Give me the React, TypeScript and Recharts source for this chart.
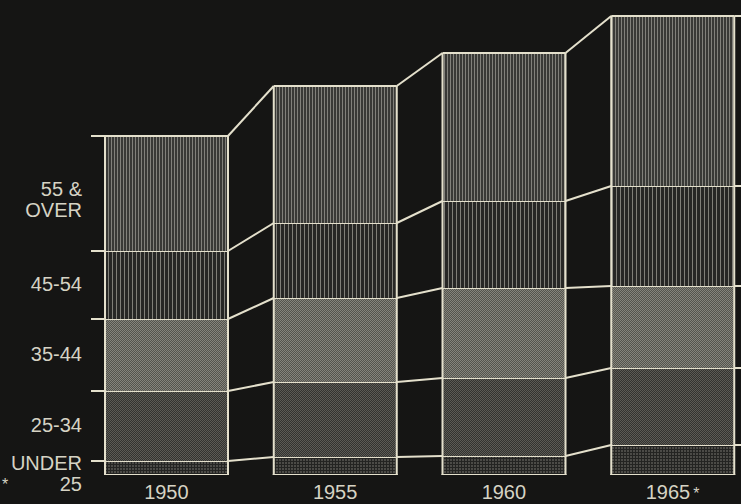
import { BarChart, Bar, XAxis, YAxis } from 'recharts';

const years = ['1950', '1955', '1960', '1965*'];
const under25 = [1.4, 1.8, 1.9, 3.0];
const age25to34 = [7.0, 7.5, 7.8, 7.7];
const age35to44 = [7.2, 8.4, 9.0, 8.2];
const age45to54 = [6.8, 7.5, 8.7, 10.0];
const age55plus = [11.5, 13.7, 14.8, 17.0];
const groupLabels = [['UNDER', '25'], ['25-34'], ['35-44'], ['45-54'], ['55 &', 'OVER']];

const keys = ['under25', 'a25', 'a35', 'a45', 'a55'];
const series = [under25, age25to34, age35to44, age45to54, age55plus];
const fills = ['url(#pU)', 'url(#p25)', 'url(#p35)', 'url(#p45)', 'url(#p55)'];

const data = years.map((year, i) => {
  const row: any = { year };
  keys.forEach((k, j) => (row[k] = series[j][i]));
  return row;
});

// tick positions for the left labels: middle of each 1950 segment
const labelTicks = series.map((_, j) => {
  const below = series.slice(0, j).reduce((s, arr) => s + arr[0], 0);
  return below + series[j][0] / 2;
});

const W = 757;
const H = 504;
const LEFT = 82;
const STEP = (W - LEFT) / years.length;
const LINE = '#e4e0cc';
const TEXT = '#d6d3c4';
const FONT = '"Liberation Sans", Arial, sans-serif';

const cum = (i: number, k: number) => series.slice(0, k + 1).reduce((s, arr) => s + arr[i], 0);

const Segment = (props: any) => {
  const { x, y, width, height, index, k } = props;
  const value = series[k][index];
  const ppu = height / value;
  const base = y + height + (cum(index, k) - value) * ppu;
  const right = x + width;
  let connector = null;
  if (index < years.length - 1) {
    const ny = base - cum(index + 1, k) * ppu;
    connector = <line x1={right} y1={y} x2={x + STEP} y2={ny} stroke={LINE} strokeWidth={2} />;
  } else {
    connector = <line x1={right} y1={y} x2={right + 30} y2={y} stroke={LINE} strokeWidth={2} />;
  }
  return (
    <g>
      <rect x={x} y={y} width={width} height={height} fill={fills[k]} />
      <line x1={index === 0 ? x - 14 : x} y1={y} x2={right} y2={y} stroke={LINE} strokeWidth={2} />
      <line x1={x} y1={y} x2={x} y2={y + height} stroke={LINE} strokeWidth={2} />
      <line x1={right} y1={y} x2={right} y2={y + height} stroke={LINE} strokeWidth={2} />
      {k === 0 && <line x1={x - 1} y1={y + height} x2={right + 1} y2={y + height} stroke={LINE} strokeWidth={2} />}
      {connector}
    </g>
  );
};

const YTick = (props: any) => {
  const { y, index } = props;
  const lines = groupLabels[index];
  const offs = lines.length === 2 ? [-5, 16] : [-1];
  return (
    <g>
      {lines.map((t, i) => (
        <text key={i} x={82} y={y + offs[i] + 7} textAnchor="end" fill={TEXT} fontSize={20} fontFamily={FONT}>
          {t}
        </text>
      ))}
    </g>
  );
};

const XTick = (props: any) => {
  const { x, payload } = props;
  const v: string = payload.value;
  const star = v.endsWith('*');
  return (
    <text x={x} y={499} textAnchor="middle" fill={TEXT} fontSize={20} fontFamily={FONT}>
      {star ? v.slice(0, -1) : v}
      {star && <tspan fontSize={16} dx={3}>*</tspan>}
    </text>
  );
};

export default function App() {
  return (
    <div style={{ width: 741, height: 504, overflow: 'hidden', background: '#151514', position: 'relative' }}>
      <style>{'body{margin:0;background:#151514}'}</style>
      <svg width={0} height={0} style={{ position: 'absolute' }}>
        <defs>
          <pattern id="p55" width={3} height={3} patternUnits="userSpaceOnUse">
            <rect width={3} height={3} fill="#393936" />
            <rect x={0} width={1} height={3} fill="#82817b" />
          </pattern>
          <pattern id="p45" width={4} height={4} patternUnits="userSpaceOnUse">
            <rect width={4} height={4} fill="#272725" />
            <rect x={0} width={1} height={4} fill="#807f78" />
          </pattern>
          <pattern id="p35" width={2} height={2} patternUnits="userSpaceOnUse">
            <rect width={2} height={2} fill="#54544d" />
            <rect x={0} y={0} width={1} height={1} fill="#85847c" />
            <rect x={1} y={1} width={1} height={1} fill="#85847c" />
          </pattern>
          <pattern id="p25" width={2} height={2} patternUnits="userSpaceOnUse">
            <rect width={2} height={2} fill="#333330" />
            <rect x={0} y={0} width={1} height={1} fill="#5c5b55" />
            <rect x={1} y={1} width={1} height={1} fill="#5c5b55" />
          </pattern>
          <pattern id="pU" width={3} height={3} patternUnits="userSpaceOnUse">
            <rect width={3} height={3} fill="#242422" />
            <rect x={0} y={0} width={2} height={2} fill="#4c4b47" />
          </pattern>
        </defs>
      </svg>
      <BarChart width={W} height={H} data={data} margin={{ top: 15, right: 0, bottom: 0, left: 0 }}>
        <XAxis dataKey="year" height={29} axisLine={false} tickLine={false} tick={<XTick />} interval={0} />
        <YAxis
          type="number"
          domain={[0, 46]}
          allowDataOverflow
          width={LEFT}
          ticks={labelTicks}
          axisLine={false}
          tickLine={false}
          tick={<YTick />}
          interval={0}
        />
        {keys.map((key, k) => (
          <Bar
            key={key}
            dataKey={key}
            stackId="a"
            barSize={123}
            isAnimationActive={false}
            shape={(p: any) => <Segment {...p} k={k} />}
          />
        ))}
      </BarChart>
      <div style={{ position: 'absolute', left: 2, top: 476, color: TEXT, fontFamily: FONT, fontSize: 16, lineHeight: '18px' }}>*</div>
    </div>
  );
}
